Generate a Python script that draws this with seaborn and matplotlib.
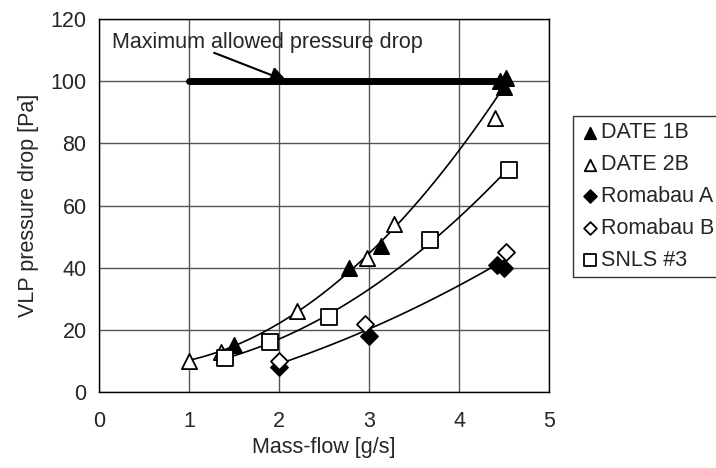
import numpy as np
import pandas as pd
import seaborn as sns
import matplotlib.pyplot as plt

#########################
# Data
#########################

date1b_x = [1.5, 2.78, 3.13, 4.45, 4.5, 4.52]
date1b_y = [15, 40, 47, 100, 98, 101]

date2b_x = [1.0, 1.35, 2.2, 2.98, 3.28, 4.4]
date2b_y = [10, 13, 26, 43, 54, 88]

romA_x = [2.0, 3.0, 4.42, 4.5]
romA_y = [8, 18, 41, 40]

romB_x = [2.0, 2.95, 4.52]
romB_y = [10, 22, 45]

snls_x = [1.4, 1.9, 2.55, 3.68, 4.55]
snls_y = [11, 16, 24, 49, 71.5]

limit_x = [1.0, 4.5]
limit_y = [100, 100]

#########################
# Plot
#########################

sns.set_style("white")
plt.rcParams['font.family'] = ['Liberation Sans', 'DejaVu Sans']
fs = 15.5

fig = plt.figure(figsize=(7.16, 4.68), dpi=100)
ax = fig.add_axes([99 / 716, 1 - 392 / 468, 450 / 716, 373 / 468])

# limit line
sns.lineplot(x=limit_x, y=limit_y, color='black', lw=5, ax=ax, zorder=2)


# polynomial trend lines (like Excel)
def trend(xs, ys, x0, x1):
    p = np.polyfit(xs, ys, 2)
    xx = np.linspace(x0, x1, 100)
    return xx, np.polyval(p, xx)


xx, yy = trend(date1b_x + date2b_x, date1b_y + date2b_y, 1.0, 4.55)
ax.plot(xx, yy, color='black', lw=1.2, zorder=3)
xx, yy = trend(snls_x, snls_y, 1.4, 4.55)
ax.plot(xx, yy, color='black', lw=1.2, zorder=3)
xx, yy = trend(romA_x + romB_x, romA_y + romB_y, 2.0, 4.5)
ax.plot(xx, yy, color='black', lw=1.2, zorder=3)

series = [
    ("DATE 1B", date1b_x, date1b_y, '^', 'black', 120),
    ("DATE 2B", date2b_x, date2b_y, '^', 'white', 120),
    ("Romabau A", romA_x, romA_y, 'D', 'black', 75),
    ("Romabau B", romB_x, romB_y, 'D', 'white', 75),
    ("SNLS #3", snls_x, snls_y, 's', 'white', 120),
]
for name, xs, ys, mk, fc, sz in series:
    df = pd.DataFrame({'x': xs, 'y': ys})
    sns.scatterplot(data=df, x='x', y='y', marker=mk, s=sz, facecolor=fc,
                    edgecolor='black', linewidth=1.3, label=name, ax=ax, zorder=4)

ax.set_xlim(0, 5)
ax.set_ylim(0, 120)
ax.set_xticks(range(0, 6))
ax.set_yticks(range(0, 121, 20))
ax.grid(True, color='#555555', lw=1)
ax.set_axisbelow(True)
for s in ax.spines.values():
    s.set_color('black')
    s.set_linewidth(1)
ax.tick_params(direction='out', length=5, color='black', labelsize=fs, pad=4)
ax.tick_params(axis='x', pad=9)
ax.set_xlabel("Mass-flow [g/s]", fontsize=fs, labelpad=3)
ax.set_ylabel("VLP pressure drop [Pa]", fontsize=fs, labelpad=8)

ax.annotate("Maximum allowed pressure drop", xy=(2.09, 100), xytext=(0.14, 112.5),
            fontsize=fs, va='center', ha='left',
            arrowprops=dict(arrowstyle='-|>', color='black', lw=1.5,
                            mutation_scale=25, shrinkA=0, shrinkB=0,
                            patchA=None, relpos=(0.33, 0.0)))

leg = ax.legend(loc='upper left', bbox_to_anchor=(573 / 716, 1 - 116 / 468),
                bbox_transform=fig.transFigure, frameon=True, fancybox=False,
                edgecolor='black', fontsize=fs, handletextpad=0.0,
                handlelength=1.0, borderpad=0.3, labelspacing=0.5,
                borderaxespad=0, markerscale=0.75)
leg.get_frame().set_linewidth(1)

plt.savefig('out.png', dpi=100)
